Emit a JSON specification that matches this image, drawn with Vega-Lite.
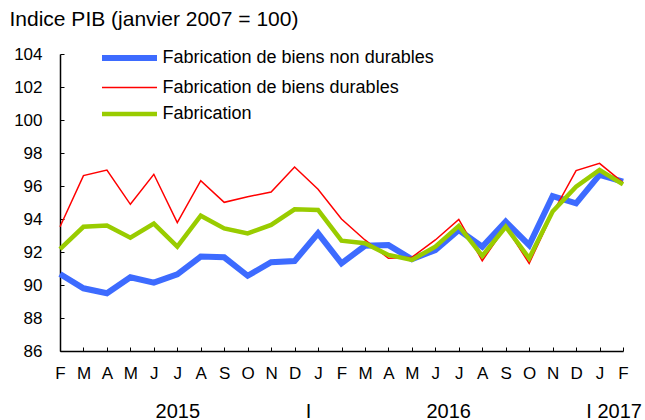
{
  "$schema": "https://vega.github.io/schema/vega-lite/v6.json",
  "width": 563,
  "height": 297,
  "autosize": {"type": "none"},
  "padding": {"left": 60, "top": 54, "right": 22, "bottom": 69},
  "background": "white",
  "config": {"view": {"stroke": null}, "font": "Liberation Sans", "axis": {"grid": false}},
  "datasets": {
    "series": [
      {"i": 0, "s": "Fabrication de biens non durables", "v": 90.67},
      {"i": 1, "s": "Fabrication de biens non durables", "v": 89.8},
      {"i": 2, "s": "Fabrication de biens non durables", "v": 89.5},
      {"i": 3, "s": "Fabrication de biens non durables", "v": 90.47},
      {"i": 4, "s": "Fabrication de biens non durables", "v": 90.14},
      {"i": 5, "s": "Fabrication de biens non durables", "v": 90.65},
      {"i": 6, "s": "Fabrication de biens non durables", "v": 91.72},
      {"i": 7, "s": "Fabrication de biens non durables", "v": 91.68},
      {"i": 8, "s": "Fabrication de biens non durables", "v": 90.56},
      {"i": 9, "s": "Fabrication de biens non durables", "v": 91.38},
      {"i": 10, "s": "Fabrication de biens non durables", "v": 91.45},
      {"i": 11, "s": "Fabrication de biens non durables", "v": 93.13},
      {"i": 12, "s": "Fabrication de biens non durables", "v": 91.31},
      {"i": 13, "s": "Fabrication de biens non durables", "v": 92.38},
      {"i": 14, "s": "Fabrication de biens non durables", "v": 92.42},
      {"i": 15, "s": "Fabrication de biens non durables", "v": 91.56},
      {"i": 16, "s": "Fabrication de biens non durables", "v": 92.12},
      {"i": 17, "s": "Fabrication de biens non durables", "v": 93.33},
      {"i": 18, "s": "Fabrication de biens non durables", "v": 92.32},
      {"i": 19, "s": "Fabrication de biens non durables", "v": 93.84},
      {"i": 20, "s": "Fabrication de biens non durables", "v": 92.42},
      {"i": 21, "s": "Fabrication de biens non durables", "v": 95.39},
      {"i": 22, "s": "Fabrication de biens non durables", "v": 94.95},
      {"i": 23, "s": "Fabrication de biens non durables", "v": 96.67},
      {"i": 24, "s": "Fabrication de biens non durables", "v": 96.26},
      {"i": 0, "s": "Fabrication de biens durables", "v": 93.53},
      {"i": 1, "s": "Fabrication de biens durables", "v": 96.63},
      {"i": 2, "s": "Fabrication de biens durables", "v": 96.97},
      {"i": 3, "s": "Fabrication de biens durables", "v": 94.89},
      {"i": 4, "s": "Fabrication de biens durables", "v": 96.71},
      {"i": 5, "s": "Fabrication de biens durables", "v": 93.78},
      {"i": 6, "s": "Fabrication de biens durables", "v": 96.32},
      {"i": 7, "s": "Fabrication de biens durables", "v": 95.01},
      {"i": 8, "s": "Fabrication de biens durables", "v": 95.35},
      {"i": 9, "s": "Fabrication de biens durables", "v": 95.64},
      {"i": 10, "s": "Fabrication de biens durables", "v": 97.15},
      {"i": 11, "s": "Fabrication de biens durables", "v": 95.8},
      {"i": 12, "s": "Fabrication de biens durables", "v": 94.0},
      {"i": 13, "s": "Fabrication de biens durables", "v": 92.73},
      {"i": 14, "s": "Fabrication de biens durables", "v": 91.62},
      {"i": 15, "s": "Fabrication de biens durables", "v": 91.68},
      {"i": 16, "s": "Fabrication de biens durables", "v": 92.73},
      {"i": 17, "s": "Fabrication de biens durables", "v": 93.98},
      {"i": 18, "s": "Fabrication de biens durables", "v": 91.47},
      {"i": 19, "s": "Fabrication de biens durables", "v": 93.53},
      {"i": 20, "s": "Fabrication de biens durables", "v": 91.31},
      {"i": 21, "s": "Fabrication de biens durables", "v": 94.35},
      {"i": 22, "s": "Fabrication de biens durables", "v": 96.93},
      {"i": 23, "s": "Fabrication de biens durables", "v": 97.37},
      {"i": 24, "s": "Fabrication de biens durables", "v": 96.2},
      {"i": 0, "s": "Fabrication", "v": 92.18},
      {"i": 1, "s": "Fabrication", "v": 93.53},
      {"i": 2, "s": "Fabrication", "v": 93.6},
      {"i": 3, "s": "Fabrication", "v": 92.87},
      {"i": 4, "s": "Fabrication", "v": 93.72},
      {"i": 5, "s": "Fabrication", "v": 92.32},
      {"i": 6, "s": "Fabrication", "v": 94.2},
      {"i": 7, "s": "Fabrication", "v": 93.43},
      {"i": 8, "s": "Fabrication", "v": 93.13},
      {"i": 9, "s": "Fabrication", "v": 93.64},
      {"i": 10, "s": "Fabrication", "v": 94.59},
      {"i": 11, "s": "Fabrication", "v": 94.55},
      {"i": 12, "s": "Fabrication", "v": 92.69},
      {"i": 13, "s": "Fabrication", "v": 92.53},
      {"i": 14, "s": "Fabrication", "v": 91.82},
      {"i": 15, "s": "Fabrication", "v": 91.52},
      {"i": 16, "s": "Fabrication", "v": 92.32},
      {"i": 17, "s": "Fabrication", "v": 93.58},
      {"i": 18, "s": "Fabrication", "v": 91.76},
      {"i": 19, "s": "Fabrication", "v": 93.53},
      {"i": 20, "s": "Fabrication", "v": 91.62},
      {"i": 21, "s": "Fabrication", "v": 94.45},
      {"i": 22, "s": "Fabrication", "v": 95.96},
      {"i": 23, "s": "Fabrication", "v": 96.97},
      {"i": 24, "s": "Fabrication", "v": 96.1}
    ],
    "years": [
      {"i": 5.0, "t": "2015"},
      {"i": 10.57, "t": "I"},
      {"i": 16.55, "t": "2016"},
      {"i": 23.6, "t": "I 2017"}
    ]
  },
  "encoding": {
    "y": {
      "field": "v", "type": "quantitative",
      "scale": {"domain": [86, 104], "nice": false, "zero": false},
      "axis": {
        "values": [86,88,90,92,94,96,98,100,102,104],
        "title": "Indice PIB (janvier 2007 = 100)",
        "titleAngle": 0, "titleX": -51, "titleY": -29, "titleAlign": "left", "titleBaseline": "alphabetic",
        "titleFontSize": 21, "titleFontWeight": "normal", "titleColor": "black",
        "domainColor": "black", "domainWidth": 1.5,
        "tickColor": "black", "tickSize": -4, "tickWidth": 1,
        "labelFontSize": 17, "labelColor": "black", "labelPadding": 22, "labelFlush": false, "labelOverlap": false
      }
    }
  },
  "resolve": {"axis": {"x": "independent"}},
  "layer": [
    {
      "data": {"name": "series"},
      "transform": [{"filter": "datum.s === 'Fabrication de biens non durables'"}],
      "mark": {"type": "line", "strokeJoin": "miter", "strokeWidth": 6},
      "encoding": {
        "x": {
          "field": "i", "type": "quantitative",
          "scale": {"domain": [0, 24], "nice": false, "zero": false},
          "axis": {
            "orient": "bottom",
            "values": [0,1,2,3,4,5,6,7,8,9,10,11,12,13,14,15,16,17,18,19,20,21,22,23,24],
            "labelExpr": "['F','M','A','M','J','J','A','S','O','N','D','J','F','M','A','M','J','J','A','S','O','N','D','J','F'][datum.value]",
            "title": null,
            "domainColor": "black", "domainWidth": 1.5,
            "tickColor": "black", "tickSize": -4, "tickWidth": 1,
            "labelFontSize": 17, "labelColor": "black", "labelPadding": 18, "labelFlush": false, "labelOverlap": false
          }
        },
        "color": {"field": "s", "type": "nominal",
          "scale": {"domain": ["Fabrication de biens non durables", "Fabrication de biens durables", "Fabrication"], "range": ["#3d6bff", "#ff0000", "#99cc00"]},
          "legend": {"orient": "none", "legendX": 60.5, "legendY": -5, "title": null, "symbolType": "stroke", "symbolSize": 400,
            "labelFontSize": 18, "labelColor": "black", "labelOffset": 24, "rowPadding": 8.5, "labelLimit": 400, "padding": 0,
            "encode": {"symbols": {"update": {
              "size": {"value": 3025},
              "strokeWidth": {"signal": "datum.value === 'Fabrication de biens non durables' ? 6 : datum.value === 'Fabrication' ? 4.5 : 1.5"}
            }}}}}
      }
    },
    {
      "data": {"name": "series"},
      "transform": [{"filter": "datum.s === 'Fabrication de biens durables'"}],
      "mark": {"type": "line", "strokeJoin": "miter", "strokeWidth": 1.5},
      "encoding": {
        "x": {"field": "i", "type": "quantitative", "axis": null},
        "color": {"field": "s", "type": "nominal"}
      }
    },
    {
      "data": {"name": "series"},
      "transform": [{"filter": "datum.s === 'Fabrication'"}],
      "mark": {"type": "line", "strokeJoin": "miter", "strokeWidth": 4.5},
      "encoding": {
        "x": {"field": "i", "type": "quantitative", "axis": null},
        "color": {"field": "s", "type": "nominal"}
      }
    },
    {
      "data": {"name": "years"},
      "mark": {"type": "text", "opacity": 0},
      "encoding": {
        "x": {"field": "i", "type": "quantitative",
          "axis": {
            "orient": "bottom",
            "values": [5.0, 10.57, 16.55, 23.6],
            "labelExpr": "datum.value < 6 ? '2015' : datum.value < 11 ? 'I' : datum.value < 17 ? '2016' : 'I 2017'",
            "title": null, "domain": false, "ticks": false,
            "labelFontSize": 20, "labelColor": "black", "labelPadding": 50, "labelFlush": false, "labelOverlap": false, "labelBound": false
          }},
        "y": {"datum": 86},
        "text": {"field": "t"}
      }
    }
  ]
}
